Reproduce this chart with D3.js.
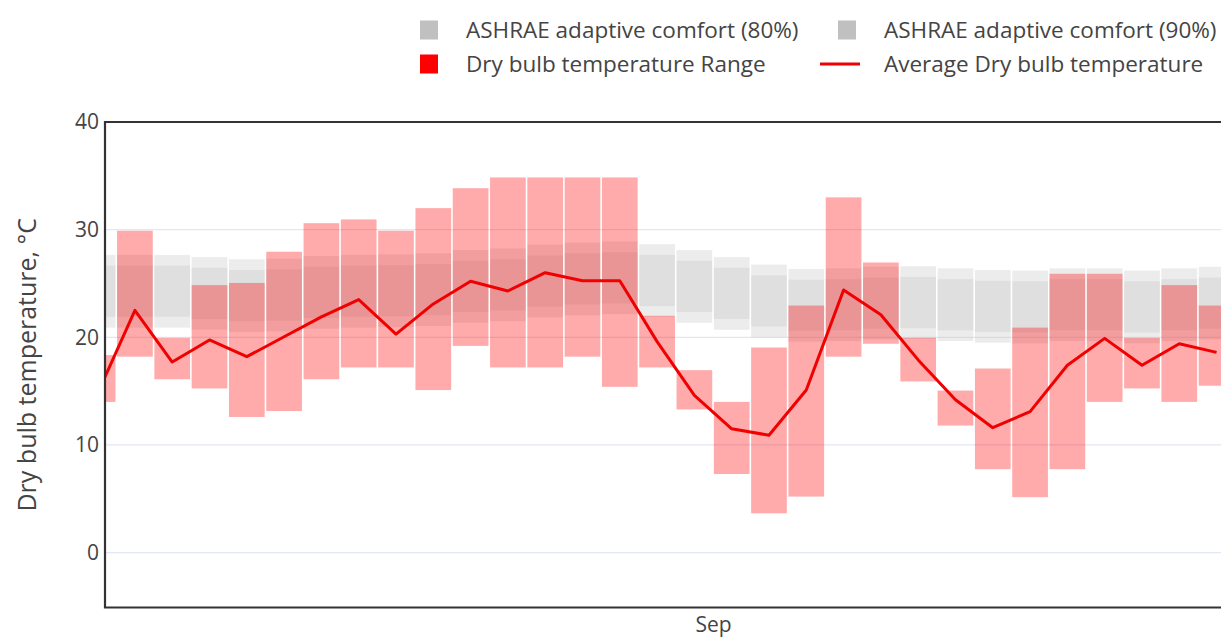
<!DOCTYPE html>
<html>
<head>
<meta charset="utf-8">
<script src="https://cdn.jsdelivr.net/npm/d3@7"></script>
<style>
  body { margin: 0; background: #fff; }
  svg { display: block; }
  text { font-family: "Open Sans", sans-serif; fill: #444; }
</style>
</head>
<body>
<svg id="chart" width="1221" height="638"></svg>
<script>
// Daily records, 15 Aug – 14 Sep
const dates = [
  "2023-08-15","2023-08-16","2023-08-17","2023-08-18","2023-08-19","2023-08-20","2023-08-21",
  "2023-08-22","2023-08-23","2023-08-24","2023-08-25","2023-08-26","2023-08-27","2023-08-28",
  "2023-08-29","2023-08-30","2023-08-31","2023-09-01","2023-09-02","2023-09-03","2023-09-04",
  "2023-09-05","2023-09-06","2023-09-07","2023-09-08","2023-09-09","2023-09-10","2023-09-11",
  "2023-09-12","2023-09-13","2023-09-14"
];
// Dry bulb temperature, daily min / max / mean (°C)
const tempMin = [14.0, 18.2, 16.1, 15.25, 12.6, 13.15, 16.1, 17.2, 17.2, 15.1, 19.2, 17.2, 17.2, 18.2, 15.4,
                 17.2, 13.3, 7.3, 3.65, 5.2, 18.2, 19.4, 15.9, 11.8, 7.75, 5.15, 7.75, 14.0, 15.25, 14.0, 15.5];
const tempMax = [18.35, 29.9, 19.95, 24.85, 25.05, 27.95, 30.6, 30.95, 29.9, 32.0, 33.85, 34.85, 34.85, 34.85, 34.85,
                 22.0, 16.95, 14.0, 19.05, 22.95, 33.0, 26.95, 19.95, 15.05, 17.1, 20.9, 25.9, 25.9, 19.95, 24.85, 22.95];
const tempAvg = [14.8, 22.5, 17.7, 19.75, 18.2, 20.05, 21.9, 23.5, 20.3, 23.1, 25.2, 24.3, 26.0, 25.25, 25.25,
                 19.6, 14.6, 11.5, 10.9, 15.1, 24.4, 22.1, 17.9, 14.2, 11.6, 13.1, 17.4, 19.9, 17.4, 19.4, 18.6];
// ASHRAE adaptive comfort bands (°C)
const comfort80High = [27.65, 27.65, 27.65, 27.45, 27.25, 27.3, 27.55, 27.65, 27.7, 27.8, 28.1, 28.25, 28.6, 28.8, 28.9,
                       28.65, 28.1, 27.45, 26.75, 26.35, 26.4, 26.55, 26.6, 26.4, 26.25, 26.2, 26.4, 26.4, 26.2, 26.4, 26.55];
const comfort80Low  = [20.9, 20.9, 20.9, 20.7, 20.5, 20.55, 20.8, 20.9, 20.95, 21.05, 21.35, 21.5, 21.85, 22.05, 22.15,
                       21.9, 21.35, 20.7, 20.0, 19.6, 19.65, 19.8, 19.85, 19.65, 19.5, 19.45, 19.65, 19.65, 19.45, 19.65, 19.8];
const comfort90High = [26.65, 26.65, 26.65, 26.45, 26.25, 26.3, 26.55, 26.65, 26.7, 26.8, 27.1, 27.25, 27.6, 27.8, 27.9,
                       27.65, 27.1, 26.45, 25.75, 25.35, 25.4, 25.55, 25.6, 25.4, 25.25, 25.2, 25.4, 25.4, 25.2, 25.4, 25.55];
const comfort90Low  = [21.9, 21.9, 21.9, 21.7, 21.5, 21.55, 21.8, 21.9, 21.95, 22.05, 22.35, 22.5, 22.85, 23.05, 23.15,
                       22.9, 22.35, 21.7, 21.0, 20.6, 20.65, 20.8, 20.85, 20.65, 20.5, 20.45, 20.65, 20.65, 20.45, 20.65, 20.8];

const yTicks = [0, 10, 20, 30, 40];
const xTicks = ["2023-09-01"];
const yTitle = "Dry bulb temperature, °C";
const legendLabels = [
  "ASHRAE adaptive comfort (80%)", "ASHRAE adaptive comfort (90%)",
  "Dry bulb temperature Range", "Average Dry bulb temperature"
];
const xRange = ["2023-08-15T16:45:00Z", "2023-09-14T20:00:00Z"];
const yRange = [-5.1, 40];

const parse = s => new Date(s + (s.length === 10 ? "T00:00:00Z" : ""));
const days = dates.map(parse);

const svg = d3.select("#chart");
const plot = { left: 105, top: 122, right: 1229, bottom: 607.5 };

const x = d3.scaleUtc().domain(xRange.map(s => new Date(s))).range([plot.left, plot.right]);
const y = d3.scaleLinear().domain(yRange).range([plot.bottom, plot.top]);

svg.append("defs").append("clipPath").attr("id", "plotClip")
  .append("rect")
  .attr("x", plot.left).attr("y", plot.top)
  .attr("width", plot.right - plot.left).attr("height", plot.bottom - plot.top);

// gridlines
svg.append("g")
  .selectAll("line")
  .data(yTicks.filter(v => v < yRange[1]))
  .join("line")
  .attr("x1", plot.left).attr("x2", plot.right)
  .attr("y1", d => y(d)).attr("y2", d => y(d))
  .attr("stroke", "#e3e6f3").attr("stroke-width", 1.2);

const g = svg.append("g").attr("clip-path", "url(#plotClip)");
const gap = 1.6;
const dayStart = d => x(d);
const dayEnd = d => x(d3.utcDay.offset(d, 1));

function bandBars(lo, hi, fill, opacity) {
  g.append("g")
    .selectAll("rect")
    .data(days.map((d, i) => ({ d, lo: lo[i], hi: hi[i] })))
    .join("rect")
    .attr("x", r => dayStart(r.d) + gap / 2)
    .attr("width", r => dayEnd(r.d) - dayStart(r.d) - gap)
    .attr("y", r => y(r.hi))
    .attr("height", r => y(r.lo) - y(r.hi))
    .attr("fill", fill)
    .attr("fill-opacity", opacity);
}

bandBars(comfort80Low, comfort80High, "silver", 0.3);
bandBars(comfort90Low, comfort90High, "silver", 0.3);
bandBars(tempMin, tempMax, "red", 0.33);

const line = d3.line()
  .x((d, i) => x(d3.utcHour.offset(days[i], 12)))
  .y(d => y(d));
g.append("path")
  .datum(tempAvg)
  .attr("d", line)
  .attr("fill", "none")
  .attr("stroke", "#f00000")
  .attr("stroke-width", 3)
  .attr("stroke-linejoin", "round");

// frame
const frame = svg.append("g").attr("stroke", "#333").attr("stroke-width", 2.2).attr("fill", "none");
frame.append("path").attr("d", `M${plot.right + 5},${plot.top}H${plot.left}V${plot.bottom}H${plot.right + 5}`);

// y axis
const yAxis = d3.axisLeft(y).tickValues(yTicks).tickSize(0).tickPadding(6);
svg.append("g").attr("transform", `translate(${plot.left},0)`).call(yAxis)
  .call(a => a.select(".domain").remove())
  .selectAll("text").attr("font-size", 21).attr("fill", "#444").style("font-family", '"Open Sans", sans-serif');

// x axis
const xAxis = d3.axisBottom(x).tickValues(xTicks.map(parse)).tickFormat(d3.utcFormat("%b")).tickSize(0).tickPadding(10);
svg.append("g").attr("transform", `translate(0,${plot.bottom})`).call(xAxis)
  .call(a => a.select(".domain").remove())
  .selectAll("text").attr("font-size", 21).attr("fill", "#444").style("font-family", '"Open Sans", sans-serif');

// y title
svg.append("text")
  .attr("transform", `translate(36,${(plot.top + plot.bottom) / 2}) rotate(-90)`)
  .attr("text-anchor", "middle")
  .attr("font-size", 25)
  .attr("fill", "#444")
  .text(yTitle);

// legend
const legendPos = [
  { x: 420, y: 30, type: "box", color: "silver" },
  { x: 838, y: 30, type: "box", color: "silver" },
  { x: 420, y: 64, type: "box", color: "red" },
  { x: 820, y: 64, type: "line", color: "#f00000" }
];
const legend = svg.append("g");
legendPos.forEach((p, i) => {
  const item = legend.append("g");
  if (p.type === "box") {
    item.append("rect").attr("x", p.x).attr("y", p.y - 9.5).attr("width", 18).attr("height", 19).attr("fill", p.color);
  } else {
    item.append("line").attr("x1", p.x).attr("x2", p.x + 40).attr("y1", p.y).attr("y2", p.y)
      .attr("stroke", p.color).attr("stroke-width", 3);
  }
  item.append("text")
    .attr("x", i % 2 === 0 ? 466 : 884)
    .attr("y", p.y)
    .attr("dy", "0.35em")
    .attr("font-size", 22.5)
    .attr("fill", "#444")
    .text(legendLabels[i]);
});
</script>
</body>
</html>
